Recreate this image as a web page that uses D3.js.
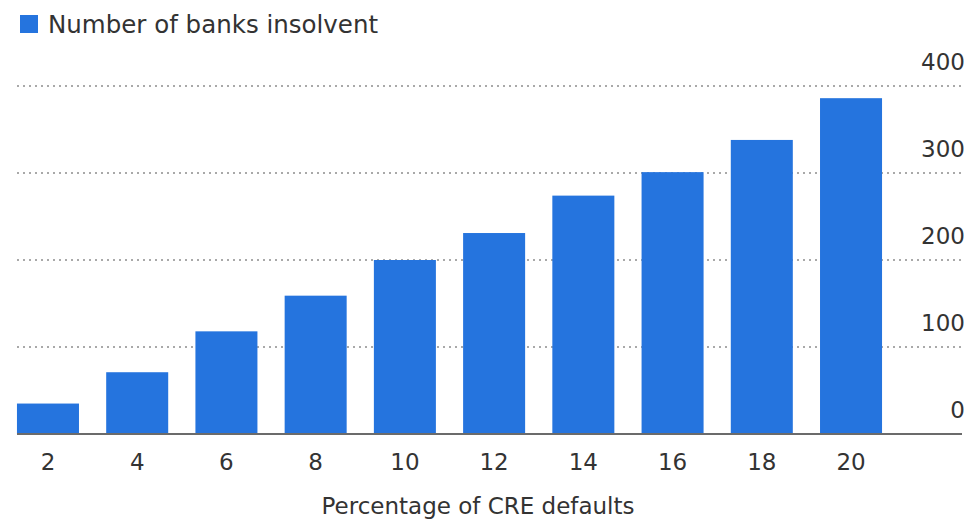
<!DOCTYPE html>
<html>
<head>
<meta charset="utf-8">
<script src="https://cdn.jsdelivr.net/npm/d3@7"></script>
<style>
  html, body { margin: 0; padding: 0; background: #fff; }
  svg { display: block; }
  text { font-family: Tahoma, "DejaVu Sans", Verdana, sans-serif; fill: #333; }
</style>
</head>
<body>
<svg id="chart" width="969" height="519"></svg>
<script>
// Share of commercial real estate loans defaulting (%)
const categories = ["2", "4", "6", "8", "10", "12", "14", "16", "18", "20"];
// Number of banks pushed into insolvency at each default rate
const banksInsolvent = [35, 71, 118, 159, 200, 231, 274, 301, 338, 386];
const yTicks = [0, 100, 200, 300, 400];
const seriesName = "Number of banks insolvent";
const xTitle = "Percentage of CRE defaults";

const barColor = "#2574de";
const plot = { left: 17, right: 962, top: 86, bottom: 434 };

const svg = d3.select("#chart");

const x = d3.scaleBand()
  .domain(categories)
  .range([3.4, 895.6])
  .paddingInner(0.305)
  .paddingOuter(0.152);

const y = d3.scaleLinear()
  .domain([0, 400])
  .range([plot.bottom, plot.top]);

// dotted horizontal gridlines
svg.append("g")
  .selectAll("line")
  .data(yTicks.filter(d => d > 0))
  .join("line")
  .attr("x1", plot.left)
  .attr("x2", plot.right)
  .attr("y1", d => y(d))
  .attr("y2", d => y(d))
  .attr("stroke", "#a9a9a9")
  .attr("stroke-width", 2)
  .attr("stroke-dasharray", "2,4");

// right-side value labels, sitting above each gridline
svg.append("g")
  .selectAll("text")
  .data(yTicks)
  .join("text")
  .attr("x", 965)
  .attr("y", d => y(d) - 16)
  .attr("text-anchor", "end")
  .attr("font-size", 23)
  .text(d => d);

// bars
svg.append("g")
  .selectAll("rect")
  .data(banksInsolvent)
  .join("rect")
  .attr("x", (d, i) => x(categories[i]))
  .attr("width", x.bandwidth())
  .attr("y", d => y(d))
  .attr("height", d => y(0) - y(d))
  .attr("fill", barColor);

// baseline
svg.append("line")
  .attr("x1", plot.left)
  .attr("x2", plot.right)
  .attr("y1", y(0))
  .attr("y2", y(0))
  .attr("stroke", "#6b6b6b")
  .attr("stroke-width", 2);

// category labels under the bars
const xAxis = d3.axisBottom(x).tickSize(0).tickPadding(0);
const gx = svg.append("g")
  .attr("transform", `translate(0,${y(0)})`)
  .call(xAxis);
gx.select(".domain").remove();
gx.selectAll("text")
  .attr("y", 36)
  .attr("dy", 0)
  .attr("font-size", 23)
  .style("font-family", null)
  .attr("fill", "#333");

// axis title
svg.append("text")
  .attr("x", 478)
  .attr("y", 514)
  .attr("text-anchor", "middle")
  .attr("font-size", 23)
  .text(xTitle);

// legend
svg.append("rect")
  .attr("x", 20)
  .attr("y", 15)
  .attr("width", 18)
  .attr("height", 18)
  .attr("fill", barColor);
svg.append("text")
  .attr("x", 48)
  .attr("y", 33)
  .attr("font-size", 24.5)
  .text(seriesName);
</script>
</body>
</html>
